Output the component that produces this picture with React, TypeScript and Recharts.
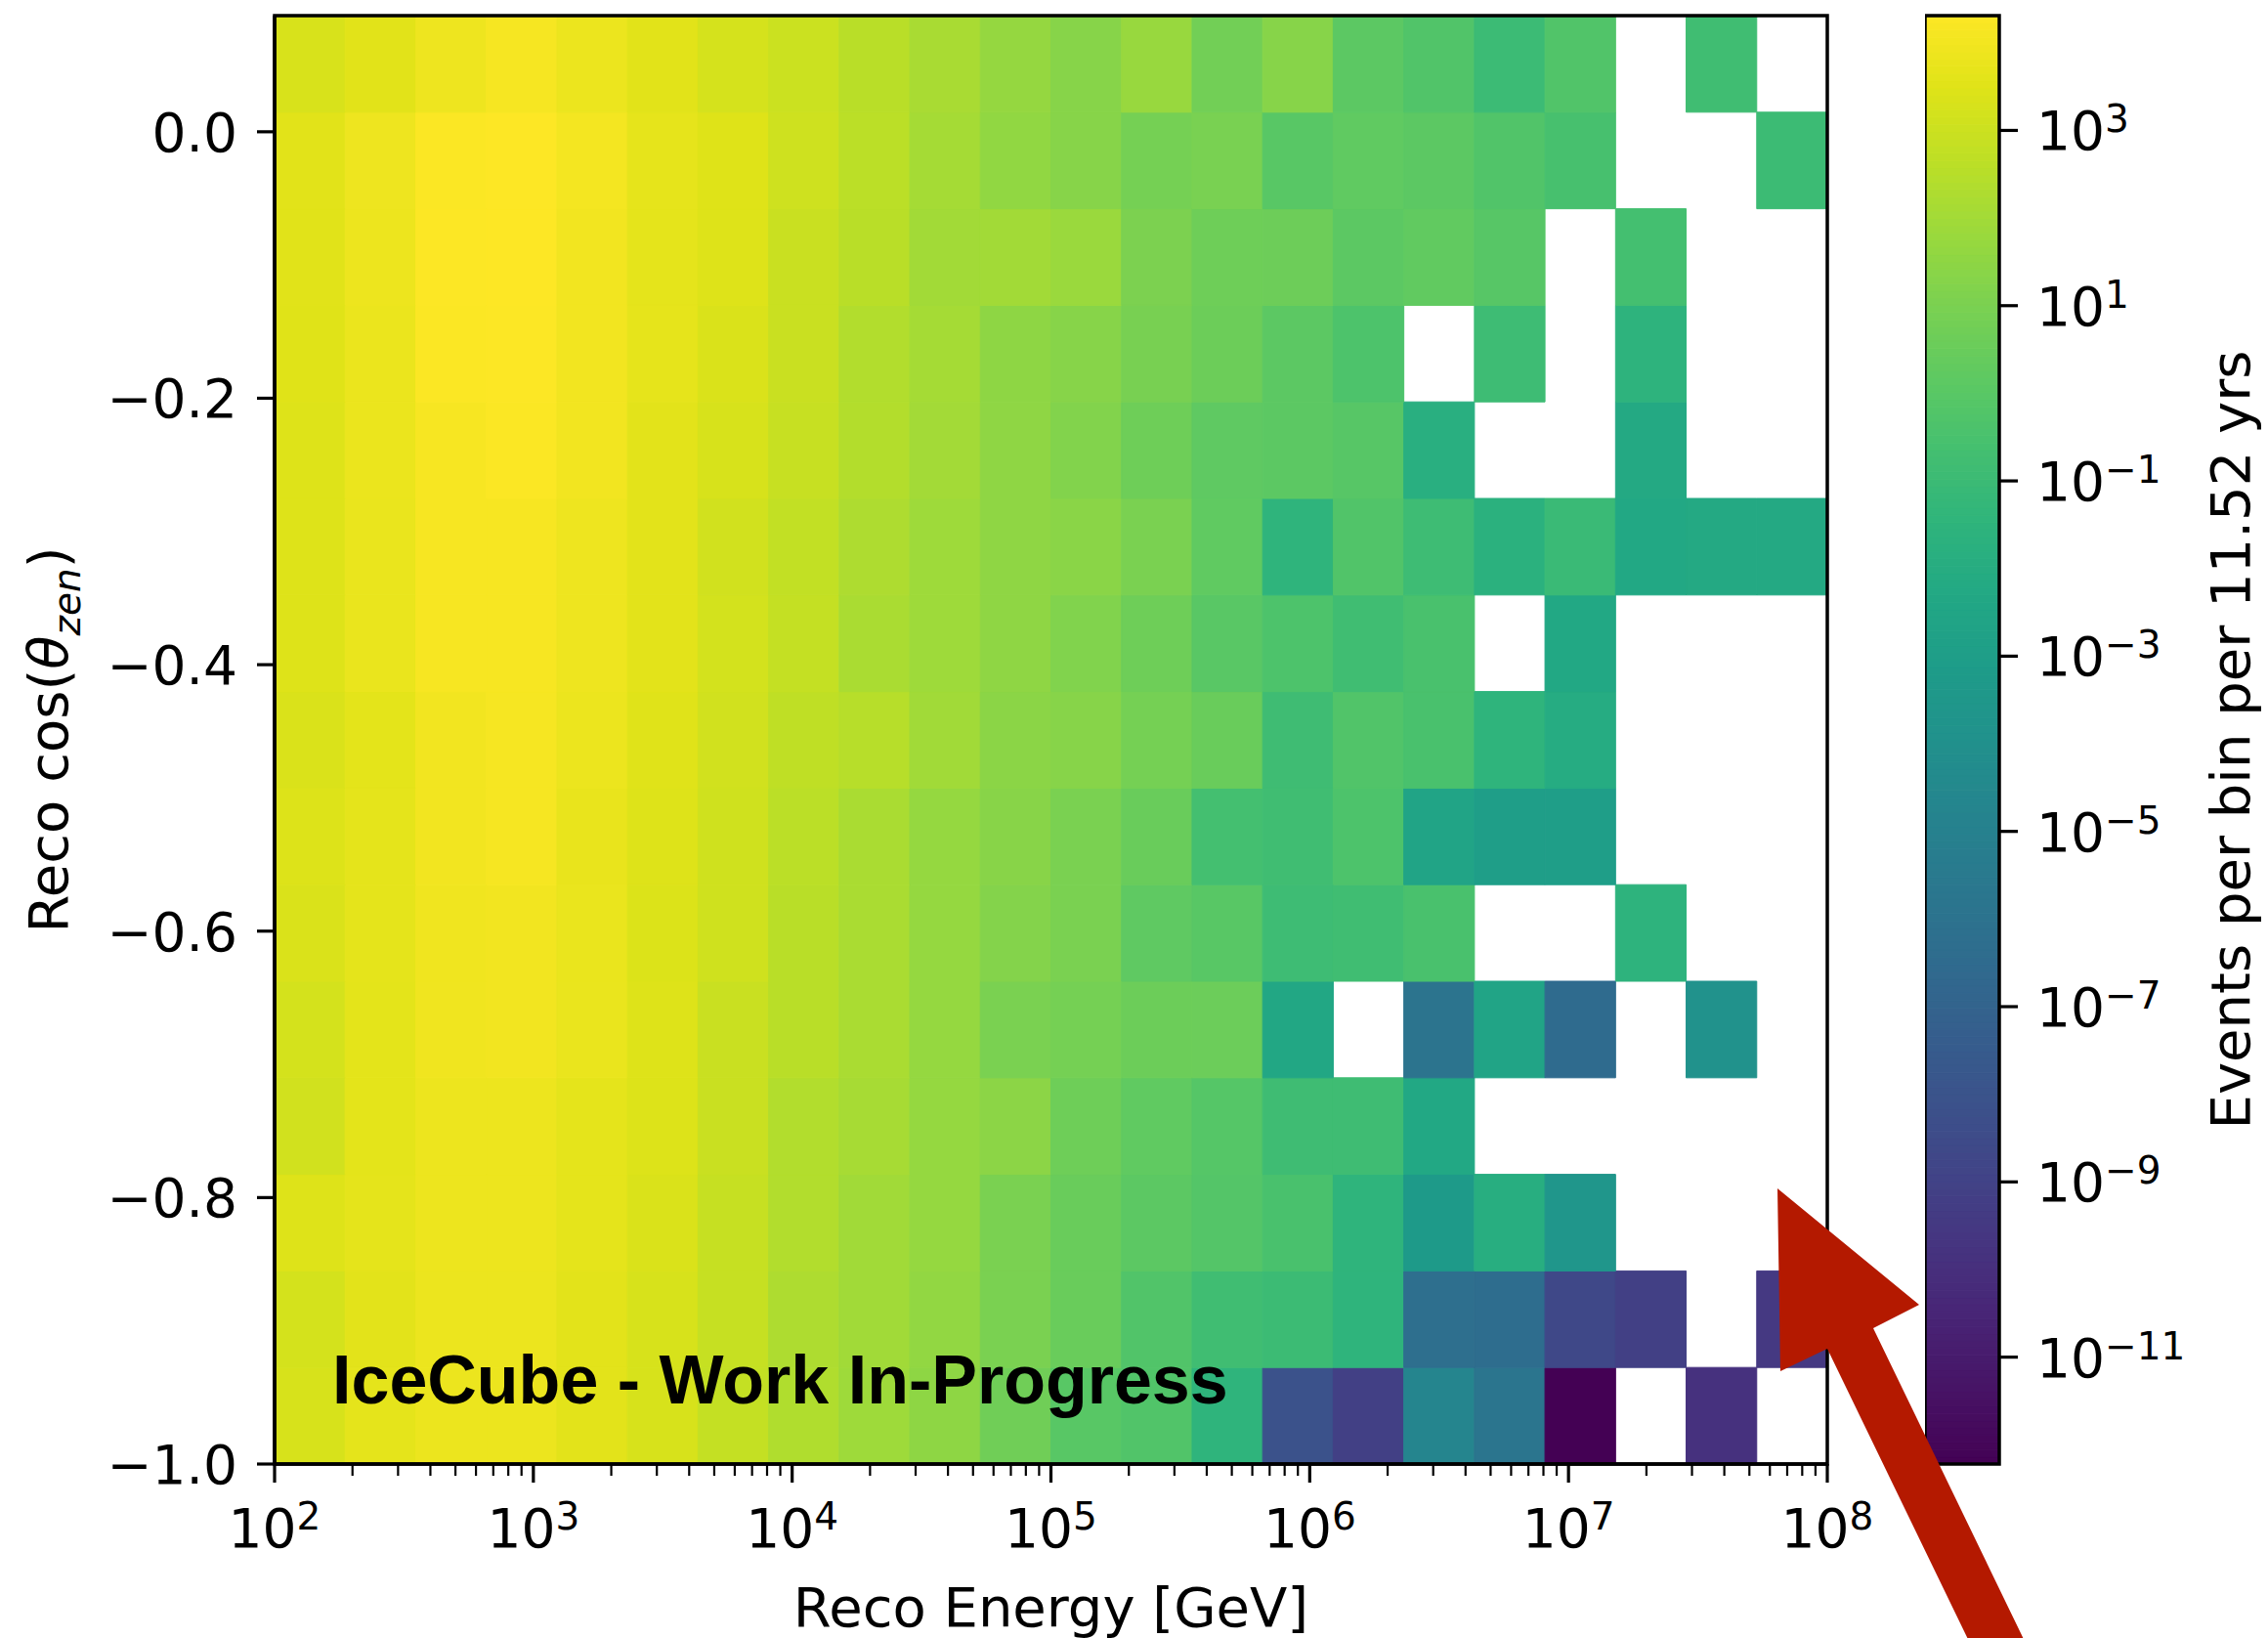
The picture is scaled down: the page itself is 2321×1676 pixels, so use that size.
import React from 'react';
import { ScatterChart, Scatter, XAxis, YAxis, ReferenceArea } from 'recharts';

const FIG_W = 2321;
const FIG_H = 1676;
const FONT = '"DejaVu Sans", sans-serif';

// layout of the figure (pixels)
const PLOT_LEFT = 281;
const PLOT_RIGHT = 1870;
const PLOT_TOP = 16;
const PLOT_BOTTOM = 1498;
const CB_LEFT = 1970;
const CB_RIGHT = 2046;

// bin edges: log10(Reco Energy / GeV), 22 bins
const LOG_E_EDGES = [2.0, 2.2727, 2.5455, 2.8182, 3.0909, 3.3636, 3.6364, 3.9091, 4.1818, 4.4545, 4.7273, 5.0, 5.2727, 5.5455, 5.8182, 6.0909, 6.3636, 6.6364, 6.9091, 7.1818, 7.4545, 7.7273, 8.0];
// bin edges: reco cos(zenith), 15 bins from -1 to cos(85 deg)
const COS_EDGES = [-1.0, -0.92752, -0.85504, -0.78257, -0.71009, -0.63761, -0.56513, -0.49265, -0.42017, -0.3477, -0.27522, -0.20274, -0.13026, -0.05778, 0.0147, 0.08718];

// log10(events per bin per 11.52 yrs); one array per cos bin (index from the bottom), null = empty bin
const COS_BIN_14 = [3.32, 3.57, 3.90, 4.11, 3.85, 3.57, 3.24, 2.99, 2.57, 2.16, 1.67, 1.33, 1.75, 0.76, 1.33, 0.10, -0.24, -0.98, -0.24, null, -0.81, null];
const COS_BIN_13 = [3.57, 3.90, 4.25, 4.30, 4.06, 3.68, 3.48, 3.07, 2.62, 2.08, 1.58, 1.33, 0.85, 0.97, 0.00, 0.25, 0.10, -0.24, -0.55, null, null, -0.95];
const COS_BIN_12 = [3.55, 3.88, 4.28, 4.31, 4.00, 3.65, 3.45, 2.95, 2.57, 2.00, 2.00, 1.80, 1.05, 0.65, 0.62, 0.10, 0.27, -0.05, null, -0.65, null, null];
const COS_BIN_11 = [3.50, 3.82, 4.25, 4.28, 4.00, 3.68, 3.35, 2.95, 2.40, 2.08, 1.50, 1.33, 0.95, 0.60, 0.12, -0.35, null, -0.90, null, -1.55, null, null];
const COS_BIN_10 = [3.45, 3.82, 4.15, 4.25, 4.00, 3.58, 3.30, 2.90, 2.42, 2.03, 1.52, 1.20, 0.65, 0.20, 0.12, -0.05, -1.85, null, null, -2.20, null, null];
const COS_BIN_09 = [3.45, 3.80, 4.15, 4.15, 3.90, 3.58, 3.15, 2.78, 2.30, 1.90, 1.52, 1.40, 1.00, 0.25, -1.50, -0.24, -0.90, -1.70, -1.05, -2.30, -2.20, -2.20];
const COS_BIN_08 = [3.45, 3.80, 4.15, 4.15, 3.90, 3.58, 3.20, 2.82, 2.20, 1.90, 1.52, 1.18, 0.65, 0.02, -0.35, -0.80, -0.50, null, -2.30, null, null, null];
const COS_BIN_07 = [3.35, 3.62, 4.00, 4.12, 3.85, 3.52, 3.15, 2.70, 2.50, 1.98, 1.42, 1.33, 0.85, 0.50, -0.85, -0.24, -0.50, -1.50, -2.05, null, null, null];
const COS_BIN_06 = [3.43, 3.65, 4.00, 4.12, 3.76, 3.45, 3.10, 2.62, 2.20, 1.68, 1.35, 1.00, 0.50, -0.65, -0.80, -0.35, -2.60, -2.96, -2.96, null, null, null];
const COS_BIN_05 = [3.35, 3.65, 3.95, 4.00, 3.80, 3.42, 3.10, 2.57, 2.20, 1.68, 1.25, 1.00, 0.20, 0.00, -0.90, -0.80, -0.50, null, null, -1.55, null, null];
const COS_BIN_04 = [3.22, 3.62, 3.95, 4.00, 3.80, 3.45, 2.95, 2.57, 2.20, 1.68, 1.00, 0.85, 0.60, 0.58, -2.35, null, -5.90, -2.60, -6.50, null, -3.90, null];
const COS_BIN_03 = [3.15, 3.62, 3.88, 3.88, 3.65, 3.43, 2.95, 2.40, 2.12, 1.68, 1.45, 0.65, 0.25, -0.10, -0.85, -0.85, -2.30, null, null, null, null, null];
const COS_BIN_02 = [3.45, 3.65, 3.88, 3.88, 3.65, 3.35, 2.88, 2.40, 1.98, 1.68, 1.00, 0.50, 0.10, -0.15, -0.50, -1.50, -3.25, -1.90, -3.60, null, null, null];
const COS_BIN_01 = [3.22, 3.58, 3.85, 3.85, 3.58, 3.30, 2.88, 2.30, 1.98, 1.60, 1.00, 0.50, -0.24, -0.80, -0.95, -1.50, -6.20, -6.35, -8.70, -9.10, null, -9.50];
const COS_BIN_00 = [3.30, 3.65, 3.85, 3.85, 3.58, 3.30, 2.82, 2.35, 1.90, 1.50, 0.70, 0.00, -0.24, -1.50, -8.10, -9.10, -4.70, -5.80, -12.22, null, -9.90, null];

const COS_BINS = [COS_BIN_00, COS_BIN_01, COS_BIN_02, COS_BIN_03, COS_BIN_04, COS_BIN_05, COS_BIN_06, COS_BIN_07, COS_BIN_08, COS_BIN_09, COS_BIN_10, COS_BIN_11, COS_BIN_12, COS_BIN_13, COS_BIN_14];

// ticks
const X_MAJOR_TICKS = [2, 3, 4, 5, 6, 7, 8];
const X_MINOR_MULTIPLIERS = [2, 3, 4, 5, 6, 7, 8, 9];
const Y_TICKS = [-1.0, -0.8, -0.6, -0.4, -0.2, 0.0];
const CB_TICKS = [-11, -9, -7, -5, -3, -1, 1, 3];

// texts
const X_LABEL = 'Reco Energy [GeV]';
const CB_LABEL = 'Events per bin per 11.52 yrs';
const WATERMARK = 'IceCube - Work In-Progress';

// viridis colormap anchors (every 0.05)
const VIRIDIS = ['#440154', '#471365', '#482475', '#463480', '#414487', '#3b528b', '#355f8d', '#2f6c8e', '#2a788e', '#25848e', '#21918c', '#1e9c89', '#22a884', '#2fb47c', '#44bf70', '#5ec962', '#7ad151', '#9bd93c', '#bddf26', '#dfe318', '#fde725'];

function hexToRgb(h: string) {
  return [parseInt(h.slice(1, 3), 16), parseInt(h.slice(3, 5), 16), parseInt(h.slice(5, 7), 16)];
}
function viridis(t: number) {
  const tt = Math.max(0, Math.min(1, t));
  const p = tt * (VIRIDIS.length - 1);
  const i = Math.min(VIRIDIS.length - 2, Math.floor(p));
  const f = p - i;
  const a = hexToRgb(VIRIDIS[i]);
  const b = hexToRgb(VIRIDIS[i + 1]);
  const c = a.map((v, k) => Math.round(v + (b[k] - v) * f));
  return `rgb(${c[0]},${c[1]},${c[2]})`;
}

const ALL_VALUES = COS_BINS.flat().filter((v) => v !== null) as number[];
const VMIN = Math.min(...ALL_VALUES);
const VMAX = Math.max(...ALL_VALUES);
const colorOf = (v: number) => viridis((v - VMIN) / (VMAX - VMIN));

type Cell = { x1: number; x2: number; y1: number; y2: number; v: number; x: number; y: number };
const CELLS: Cell[] = [];
COS_BINS.forEach((row, yi) => {
  row.forEach((v, xi) => {
    if (v === null) return;
    CELLS.push({
      x1: LOG_E_EDGES[xi],
      x2: LOG_E_EDGES[xi + 1],
      y1: COS_EDGES[yi],
      y2: COS_EDGES[yi + 1],
      v: v as number,
      x: (LOG_E_EDGES[xi] + LOG_E_EDGES[xi + 1]) / 2,
      y: (COS_EDGES[yi] + COS_EDGES[yi + 1]) / 2,
    });
  });
});

const X_TICKS: number[] = [];
X_MAJOR_TICKS.forEach((n, i) => {
  X_TICKS.push(n);
  if (i < X_MAJOR_TICKS.length - 1) X_MINOR_MULTIPLIERS.forEach((m) => X_TICKS.push(n + Math.log10(m)));
});

// colorbar slices (rendering of the colormap)
const CB_STEPS = 200;
const CB_SLICES = Array.from({ length: CB_STEPS }, (_, i) => {
  const a = VMIN + ((VMAX - VMIN) * i) / CB_STEPS;
  const b = VMIN + ((VMAX - VMIN) * (i + 1)) / CB_STEPS;
  return { a, b, c: colorOf((a + b) / 2) };
});

const fmtMinus = (s: string) => s.replace('-', '\u2212');

const XTick = (props: any) => {
  const { x, y, payload } = props;
  const v = payload.value as number;
  const major = Math.abs(v - Math.round(v)) < 1e-6;
  if (!major) {
    return <line x1={x} x2={x} y1={y} y2={y + 12} stroke="#000" strokeWidth={2.2} />;
  }
  return (
    <g>
      <line x1={x} x2={x} y1={y} y2={y + 19} stroke="#000" strokeWidth={3.2} />
      <text x={x} y={y + 85} textAnchor="middle" fontFamily={FONT} fontSize={55} fill="#000">
        <tspan>10</tspan>
        <tspan fontSize={39} dy={-18}>{fmtMinus(String(Math.round(v)))}</tspan>
      </text>
    </g>
  );
};

const YTick = (props: any) => {
  const { x, y, payload } = props;
  const v = payload.value as number;
  return (
    <g>
      <line x1={x - 18} x2={x} y1={y} y2={y} stroke="#000" strokeWidth={3.2} />
      <text x={x - 38} y={y + 20} textAnchor="end" fontFamily={FONT} fontSize={55} fill="#000">
        {fmtMinus(v.toFixed(1))}
      </text>
    </g>
  );
};

const CbTick = (props: any) => {
  const { x, y, payload } = props;
  const v = payload.value as number;
  return (
    <g>
      <line x1={x} x2={x + 19} y1={y} y2={y} stroke="#000" strokeWidth={3.2} />
      <text x={x + 38} y={y + 20} textAnchor="start" fontFamily={FONT} fontSize={55} fill="#000">
        <tspan>10</tspan>
        <tspan fontSize={39} dy={-18}>{fmtMinus(String(v))}</tspan>
      </text>
    </g>
  );
};

const emptyShape = () => <g />;

export default function App() {
  const mainW = PLOT_RIGHT + 95;
  const xAxisH = 100;
  const cbW = FIG_W - CB_LEFT;
  const cbAxisW = cbW - (CB_RIGHT - CB_LEFT);
  const yMid = (PLOT_TOP + PLOT_BOTTOM) / 2;
  const xMid = (PLOT_LEFT + PLOT_RIGHT) / 2;

  return (
    <div style={{ position: 'absolute', left: 0, top: 0, width: FIG_W, height: FIG_H, background: '#fff', overflow: 'hidden' }}>
      <div style={{ position: 'absolute', left: 0, top: 0 }}>
        <ScatterChart
          width={mainW}
          height={FIG_H}
          margin={{ top: PLOT_TOP, right: mainW - PLOT_RIGHT, bottom: FIG_H - PLOT_BOTTOM - xAxisH, left: 0 }}
        >
          <XAxis
            type="number"
            dataKey="x"
            domain={[LOG_E_EDGES[0], LOG_E_EDGES[LOG_E_EDGES.length - 1]]}
            ticks={X_TICKS}
            interval={0}
            allowDataOverflow
            height={xAxisH}
            tickSize={0}
            tickMargin={0}
            tickLine={false}
            axisLine={{ stroke: '#000', strokeWidth: 3.5 }}
            tick={(p: any) => <XTick {...p} />}
          />
          <YAxis
            type="number"
            dataKey="y"
            domain={[COS_EDGES[0], COS_EDGES[COS_EDGES.length - 1]]}
            ticks={Y_TICKS}
            interval={0}
            allowDataOverflow
            width={PLOT_LEFT}
            tickSize={0}
            tickMargin={0}
            tickLine={false}
            axisLine={{ stroke: '#000', strokeWidth: 3.5 }}
            tick={(p: any) => <YTick {...p} />}
          />
          {CELLS.map((c, i) => (
            <ReferenceArea
              key={`cell-${i}`}
              x1={c.x1}
              x2={c.x2}
              y1={c.y1}
              y2={c.y2}
              fill={colorOf(c.v)}
              fillOpacity={1}
              stroke={colorOf(c.v)}
              strokeWidth={1}
              ifOverflow="visible"
            />
          ))}
          <ReferenceArea
            x1={LOG_E_EDGES[0]}
            x2={LOG_E_EDGES[LOG_E_EDGES.length - 1]}
            y1={COS_EDGES[0]}
            y2={COS_EDGES[COS_EDGES.length - 1]}
            fill="none"
            fillOpacity={0}
            stroke="#000"
            strokeWidth={3.5}
            ifOverflow="visible"
          />
          <Scatter data={CELLS} isAnimationActive={false} shape={emptyShape} />
        </ScatterChart>
      </div>

      <div style={{ position: 'absolute', left: CB_LEFT, top: 0 }}>
        <ScatterChart
          width={cbW}
          height={FIG_H}
          margin={{ top: PLOT_TOP, right: 0, bottom: FIG_H - PLOT_BOTTOM, left: 0 }}
        >
          <XAxis type="number" dataKey="x" domain={[0, 1]} hide allowDataOverflow />
          <YAxis
            type="number"
            dataKey="y"
            orientation="right"
            domain={[VMIN, VMAX]}
            ticks={CB_TICKS}
            interval={0}
            allowDataOverflow
            width={cbAxisW}
            tickSize={0}
            tickMargin={0}
            tickLine={false}
            axisLine={false}
            tick={(p: any) => <CbTick {...p} />}
          />
          {CB_SLICES.map((s, i) => (
            <ReferenceArea
              key={`cb-${i}`}
              x1={0}
              x2={1}
              y1={s.a}
              y2={s.b}
              fill={s.c}
              fillOpacity={1}
              stroke={s.c}
              strokeWidth={1}
              ifOverflow="visible"
            />
          ))}
          <ReferenceArea x1={0} x2={1} y1={VMIN} y2={VMAX} fill="none" fillOpacity={0} stroke="#000" strokeWidth={3.5} ifOverflow="visible" />
          <Scatter data={[{ x: 0.5, y: VMIN }]} isAnimationActive={false} shape={emptyShape} />
        </ScatterChart>
      </div>

      <svg width={FIG_W} height={FIG_H} style={{ position: 'absolute', left: 0, top: 0, pointerEvents: 'none' }}>
        <text x={xMid} y={1664} textAnchor="middle" fontFamily={FONT} fontSize={56} fill="#000">
          {X_LABEL}
        </text>
        <text x={69} y={yMid} transform={`rotate(-90, 69, ${yMid})`} textAnchor="middle" fontFamily={FONT} fontSize={56} fill="#000">
          <tspan>Reco cos(</tspan>
          <tspan fontStyle="italic">θ</tspan>
          <tspan fontStyle="italic" fontSize={39} dy={13}>zen</tspan>
          <tspan dy={-13}>)</tspan>
        </text>
        <text x={2302} y={yMid} transform={`rotate(-90, 2302, ${yMid})`} textAnchor="middle" fontFamily={FONT} fontSize={56} fill="#000">
          {CB_LABEL}
        </text>
        <text x={340} y={1436} fontFamily={'"Liberation Sans", Arial, sans-serif'} fontWeight="bold" fontSize={70} fill="#000">
          {WATERMARK}
        </text>
        <polygon
          points="1819,1216 1964,1335 1917,1359 2082,1700 2025,1700 1870,1380 1822,1403"
          fill="#b41900"
        />
      </svg>
    </div>
  );
}
